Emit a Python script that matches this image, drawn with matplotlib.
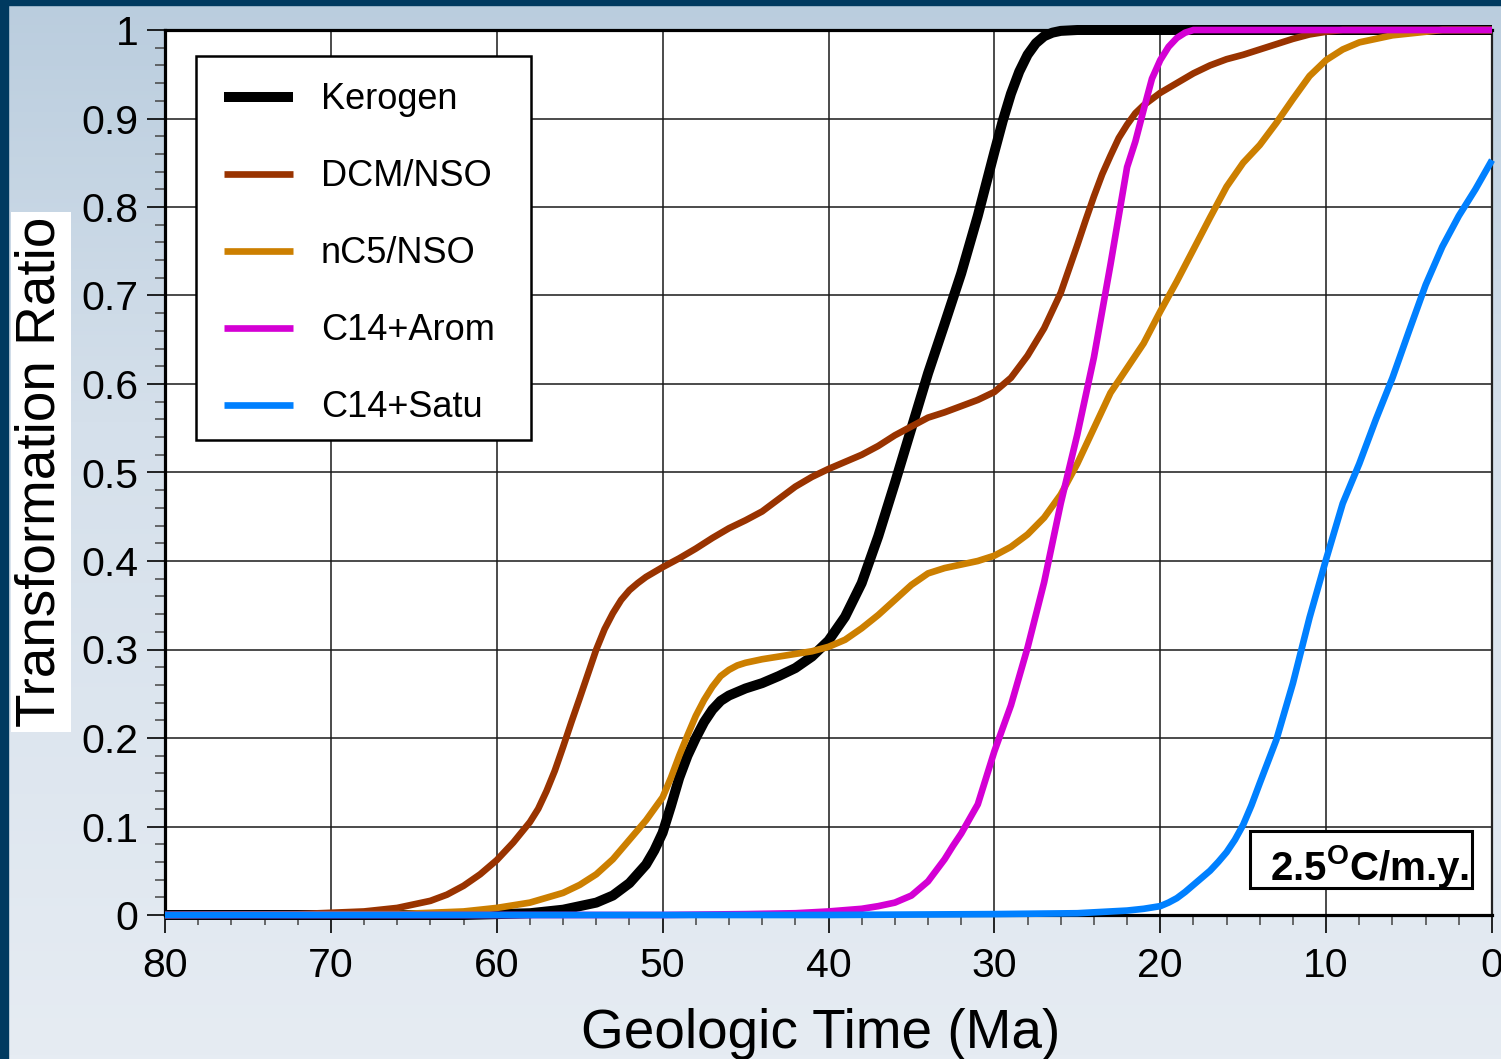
import numpy as np
import matplotlib
matplotlib.use("Agg")
import matplotlib.pyplot as plt
from matplotlib.patches import Rectangle
from matplotlib.ticker import MultipleLocator, FuncFormatter

plt.rcParams['font.family'] = ['Liberation Sans', 'DejaVu Sans']
plt.rcParams['mathtext.fontset'] = 'custom'
plt.rcParams['mathtext.rm'] = 'Liberation Sans'
plt.rcParams['mathtext.bf'] = 'Liberation Sans:bold'

# transformation ratio vs geologic time (Ma)
kerogen_t = [80, 62, 60, 58, 56, 54, 53, 52, 51, 50.5, 50, 49.5, 49, 48.5, 48, 47.5, 47, 46.5, 46,
             45, 44, 43, 42, 41, 40, 39, 38, 37, 36, 35, 34, 33, 32, 31, 30, 29.5, 29, 28.5, 28,
             27.5, 27, 26.5, 26, 25, 0]
kerogen_tr = [0, 0, 0.001, 0.002, 0.006, 0.014, 0.022, 0.036, 0.057, 0.073, 0.093, 0.123, 0.155,
              0.18, 0.2, 0.218, 0.232, 0.242, 0.248, 0.256, 0.262, 0.27, 0.279, 0.292, 0.31, 0.337,
              0.375, 0.428, 0.488, 0.55, 0.612, 0.668, 0.725, 0.79, 0.862, 0.897, 0.928, 0.953,
              0.972, 0.985, 0.993, 0.997, 0.999, 1.0, 1.0]

dcm_t = [80, 72, 68, 66, 64, 63, 62, 61, 60, 59, 58, 57.5, 57, 56.5, 56, 55.5, 55, 54, 53.5, 53,
         52.5, 52, 51.5, 51, 50, 49, 48, 47, 46, 45, 44, 43, 42, 41, 40, 39, 38, 37, 36, 35, 34,
         33, 32, 31, 30, 29, 28, 27, 26, 25, 24.5, 24, 23.5, 23, 22.5, 22, 21.5, 21, 20, 19, 18,
         17, 16, 15, 14, 13, 12, 11, 10, 9, 0]
dcm_tr = [0, 0.001, 0.004, 0.008, 0.016, 0.023, 0.033, 0.046, 0.062, 0.082, 0.105, 0.12, 0.14,
          0.163, 0.19, 0.218, 0.245, 0.3, 0.323, 0.341, 0.356, 0.367, 0.375, 0.382, 0.393, 0.403,
          0.414, 0.426, 0.437, 0.446, 0.456, 0.47, 0.484, 0.495, 0.504, 0.512, 0.52, 0.53, 0.542,
          0.552, 0.562, 0.568, 0.575, 0.582, 0.591, 0.607, 0.632, 0.663, 0.703, 0.757, 0.785,
          0.812, 0.837, 0.858, 0.878, 0.893, 0.906, 0.915, 0.929, 0.94, 0.951, 0.96, 0.967, 0.972,
          0.978, 0.984, 0.99, 0.995, 0.998, 1.0, 1.0]

nc5_t = [80, 66, 62, 60, 58, 56, 55, 54, 53, 52, 51, 50, 49.5, 49, 48.5, 48, 47.5, 47, 46.5, 46,
         45.5, 45, 44, 43, 42, 41, 40, 39, 38, 37, 36, 35, 34, 33, 32, 31, 30, 29, 28, 27, 26, 25,
         24, 23, 22, 21, 20, 19, 18, 17, 16, 15, 14, 13, 12, 11, 10, 9, 8, 7, 6, 5, 4, 3, 0]
nc5_tr = [0, 0.001, 0.004, 0.008, 0.014, 0.025, 0.034, 0.046, 0.063, 0.085, 0.107, 0.133, 0.155,
          0.18, 0.203, 0.225, 0.243, 0.258, 0.27, 0.277, 0.282, 0.285, 0.289, 0.292, 0.295, 0.298,
          0.303, 0.311, 0.324, 0.339, 0.356, 0.373, 0.386, 0.392, 0.396, 0.4, 0.406, 0.416, 0.43,
          0.449, 0.475, 0.51, 0.55, 0.59, 0.618, 0.646, 0.682, 0.716, 0.752, 0.788, 0.823, 0.85,
          0.87, 0.895, 0.922, 0.948, 0.966, 0.978, 0.986, 0.99, 0.994, 0.996, 0.998, 1.0, 1.0]

arom_t = [80, 50, 45, 42, 40, 38, 37, 36, 35, 34, 33, 32.5, 32, 31, 30, 29, 28, 27, 26, 25, 24,
          23, 22, 21.5, 21, 20.5, 20, 19.5, 19, 18.5, 18, 0]
arom_tr = [0, 0, 0.001, 0.002, 0.004, 0.007, 0.01, 0.014, 0.022, 0.038, 0.063, 0.078, 0.092,
           0.125, 0.185, 0.237, 0.302, 0.376, 0.465, 0.543, 0.63, 0.735, 0.845, 0.874, 0.91,
           0.945, 0.966, 0.981, 0.991, 0.997, 1.0, 1.0]

satu_t = [80, 40, 30, 25, 22, 21, 20, 19.5, 19, 18.5, 18, 17.5, 17, 16.5, 16, 15.5, 15, 14.5, 14,
          13, 12, 11, 10, 9, 8, 7, 6, 5, 4, 3, 2, 1, 0]
satu_tr = [0, 0, 0.001, 0.002, 0.005, 0.007, 0.01, 0.014, 0.019, 0.026, 0.034, 0.042, 0.05, 0.06,
           0.071, 0.085, 0.102, 0.124, 0.149, 0.198, 0.262, 0.336, 0.402, 0.465, 0.51, 0.56,
           0.607, 0.66, 0.712, 0.755, 0.79, 0.82, 0.853]

series = [
    ("Kerogen", kerogen_t, kerogen_tr, "black", 7.2),
    ("DCM/NSO", dcm_t, dcm_tr, "#993300", 4.8),
    ("nC5/NSO", nc5_t, nc5_tr, "#cc7f00", 4.8),
    ("C14+Arom", arom_t, arom_tr, "#d400d4", 4.8),
    ("C14+Satu", satu_t, satu_tr, "#0080ff", 4.8),
]

W, H = 1501, 1059
fig = plt.figure(figsize=(W / 100, H / 100), dpi=100)

# background gradient + navy frame
bg = fig.add_axes([0, 0, 1, 1])
top = np.array([186, 205, 222]) / 255
mid = np.array([213, 224, 235]) / 255
bot = np.array([230, 236, 243]) / 255
yy = np.linspace(0, 1, 256)[:, None]
grad = np.where(yy < 0.4, top + (mid - top) * (yy / 0.4), mid + (bot - mid) * ((yy - 0.4) / 0.6))
bg.imshow(grad[:, None, :].repeat(2, axis=1), aspect='auto', extent=[0, 1, 0, 1], origin='upper')
bg.add_patch(Rectangle((0, 0), 8 / W, 1, color="#003a60", transform=bg.transAxes))
bg.add_patch(Rectangle((0, 1 - 5 / H), 1, 5 / H, color="#003a60", transform=bg.transAxes))
bg.set_xlim(0, 1)
bg.set_ylim(0, 1)
bg.axis('off')

ax = fig.add_axes([165 / W, 1 - 915 / H, 1327 / W, 885 / H])
ax.set_facecolor("white")

for name, t, tr, col, lw in series:
    ax.plot(t, tr, color=col, lw=lw, label=name, clip_on=False, zorder=4,
            solid_capstyle='butt', solid_joinstyle='round')

ax.set_xlim(80, 0)
ax.set_ylim(0, 1)
ax.xaxis.set_major_locator(MultipleLocator(10))
ax.xaxis.set_minor_locator(MultipleLocator(2))
ax.yaxis.set_major_locator(MultipleLocator(0.1))
ax.yaxis.set_minor_locator(MultipleLocator(0.02))
ax.yaxis.set_major_formatter(FuncFormatter(lambda v, p: "%g" % round(v, 2)))
ax.xaxis.set_major_formatter(FuncFormatter(lambda v, p: "%g" % v))
ax.grid(which='major', color="#1a1a1a", lw=1.1)
ax.set_axisbelow(True)

ax.tick_params(which='major', direction='out', length=13, width=1.2, labelsize=29.5, colors='black', pad=6)
ax.tick_params(which='minor', direction='out', length=7, width=1.1, color='#444444')
ax.tick_params(axis='x', which='major', pad=10)

for s in ['left', 'bottom', 'top']:
    ax.spines[s].set_linewidth(2.3)
    ax.spines[s].set_color('black')
ax.spines['right'].set_linewidth(1.6)
ax.spines['right'].set_color('#222222')

# legend: frame drawn separately so its size matches the original
ax.add_patch(Rectangle((31 / 1327, 1 - 440 / 885 + 915 / 885 - 1), 335 / 1327, 384 / 885,
                       transform=ax.transAxes, facecolor='white', edgecolor='black', lw=1.8,
                       zorder=5))
leg = ax.legend(loc='upper left', bbox_to_anchor=(31 / 1327, 1 - 24 / 885), borderaxespad=0,
                fontsize=26, frameon=False, handlelength=1.9, handletextpad=0.78,
                labelspacing=1.165, borderpad=0.78)
leg.set_zorder(6)

# rate annotation box
ax.add_patch(Rectangle((1085 / 1327, 27 / 885), 222 / 1327, 57 / 885, transform=ax.transAxes,
                       facecolor='white', edgecolor='black', lw=2.2, zorder=5))
ax.text(1105 / 1327, 35 / 885, r"2.5$^{\mathbf{O}}$C/m.y.", transform=ax.transAxes,
        fontsize=29, fontweight='bold', va='baseline', ha='left', zorder=6)

fig.text(41 / W, 1 - 472 / H, "Transformation Ratio", rotation=90, ha='center', va='center',
         fontsize=39.5, bbox=dict(boxstyle='square,pad=0.08', facecolor='white', edgecolor='none'))
fig.text(821 / W, 1 - 1048 / H, "Geologic Time (Ma)", ha='center', va='baseline', fontsize=39.5)

fig.savefig("out.png", dpi=100)
